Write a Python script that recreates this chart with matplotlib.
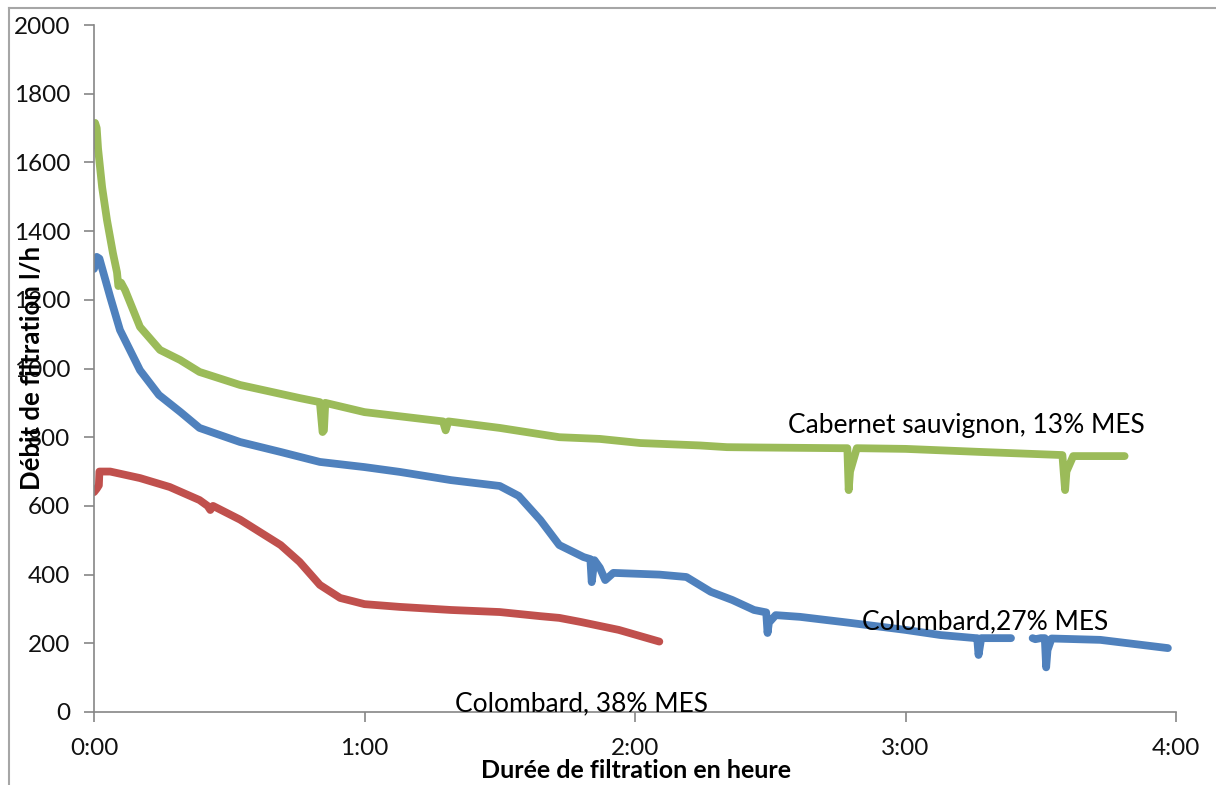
import numpy as np
import matplotlib.pyplot as plt
from matplotlib.lines import Line2D

# Durée (heures) et débit (l/h)
cab_t = [0.0, 0.004, 0.01, 0.015, 0.03, 0.048, 0.07, 0.085, 0.09, 0.1, 0.115, 0.17, 0.244,
         0.318, 0.39, 0.54, 0.76, 0.835, 0.845, 0.85, 0.855, 1.0, 1.29, 1.30, 1.31, 1.5,
         1.72, 1.87, 2.02, 2.24, 2.34, 2.46, 2.76, 2.785, 2.79, 2.795, 2.82, 3.0, 3.28,
         3.58, 3.59, 3.595, 3.62, 3.81]
cab_v = [1650, 1715, 1700, 1640, 1528, 1432, 1336, 1280, 1240, 1250, 1228, 1121, 1054,
         1025, 990, 952, 914, 902, 815, 820, 900, 873, 846, 820, 846, 827,
         800, 795, 783, 776, 771, 770, 768, 768, 646, 700, 768, 766, 757,
         748, 646, 700, 745, 745]

col27_t = [0.0, 0.01, 0.02, 0.06, 0.096, 0.17, 0.24, 0.32, 0.39, 0.54, 0.69, 0.835,
           1.0, 1.13, 1.32, 1.5, 1.57, 1.65, 1.72, 1.81, 1.835, 1.84, 1.85, 1.87, 1.89,
           1.92, 2.09, 2.19, 2.28, 2.36, 2.44, 2.485, 2.49, 2.495, 2.52, 2.61, 2.8, 3.0,
           3.13, 3.26, 3.265, 3.27, 3.28, 3.39]
col27_v = [1290, 1325, 1320, 1208, 1112, 995, 923, 873, 827, 786, 757, 728,
           713, 699, 675, 658, 629, 559, 486, 451, 445, 378, 442, 420, 384,
           405, 400, 393, 350, 326, 297, 290, 230, 260, 282, 277, 259, 239,
           224, 215, 215, 166, 215, 215]
col27b_t = [3.47, 3.48, 3.5, 3.515, 3.52, 3.525, 3.54, 3.72, 3.97]
col27b_v = [215, 212, 215, 215, 130, 180, 214, 210, 186]

col38_t = [0.0, 0.01, 0.018, 0.02, 0.06, 0.17, 0.28, 0.39, 0.42, 0.43, 0.44, 0.54,
           0.69, 0.76, 0.835, 0.91, 1.0, 1.13, 1.32, 1.5, 1.65, 1.72, 1.8, 1.94, 2.09]
col38_v = [640, 650, 660, 700, 700, 681, 655, 617, 600, 588, 600, 560,
           486, 437, 370, 332, 314, 306, 297, 291, 279, 274, 262, 239, 205]

x_ticks = [0, 1, 2, 3, 4]
x_labels = ["0:00", "1:00", "2:00", "3:00", "4:00"]
y_ticks = list(range(0, 2001, 200))

GREEN = "#9BBB59"
BLUE = "#4F81BD"
RED = "#C0504D"
GREY = "#868686"

plt.rcParams['font.family'] = ['Lato', 'DejaVu Sans']

fig = plt.figure(figsize=(12.16, 7.85), dpi=100)
ax = fig.add_axes([94 / 1216, 1 - 712 / 785, (1176 - 94) / 1216, (712 - 25) / 785])

lw = 5.6
for t, v, c in [(cab_t, cab_v, GREEN), (col27_t, col27_v, BLUE),
                (col27b_t, col27b_v, BLUE), (col38_t, col38_v, RED)]:
    ax.plot(t, v, color=c, lw=lw, solid_joinstyle="round", solid_capstyle="round")

ax.set_xlim(0, 4)
ax.set_ylim(0, 2000)
ax.set_xticks(x_ticks)
ax.set_xticklabels(x_labels)
ax.set_yticks(y_ticks)

for s in ["top", "right"]:
    ax.spines[s].set_visible(False)
for s in ["left", "bottom"]:
    ax.spines[s].set_color(GREY)
    ax.spines[s].set_linewidth(1.2)
ax.tick_params(axis="both", colors=GREY, length=7, width=1.2, labelcolor="#111111",
               labelsize=17.5)
ax.tick_params(axis="y", pad=10)
ax.tick_params(axis="x", pad=12)

ax.text(2.566, 835, "Cabernet sauvignon, 13% MES", fontsize=19, va="center", ha="left")
ax.text(2.839, 262, "Colombard,27% MES", fontsize=19, va="center", ha="left")
ax.text(1.335, 23, "Colombard, 38% MES", fontsize=19, va="center", ha="left")

fig.text(32 / 1216, 1 - 368 / 785, "Débit de filtration l/h", rotation=90, fontsize=18.5,
         fontweight="bold", ha="center", va="center")
fig.text(636 / 1216, 1 - 771 / 785, "Durée de filtration en heure", fontsize=18,
         fontweight="bold", ha="center", va="center")

# cadre gris de la figure (haut et gauche)
fig.add_artist(Line2D([9 / 1216, 9 / 1216], [0, 1 - 8 / 785], transform=fig.transFigure,
                      color="#A6A6A6", lw=1.5))
fig.add_artist(Line2D([9 / 1216, 1], [1 - 8 / 785, 1 - 8 / 785], transform=fig.transFigure,
                      color="#A6A6A6", lw=1.5))

fig.savefig("out.png", dpi=100)
